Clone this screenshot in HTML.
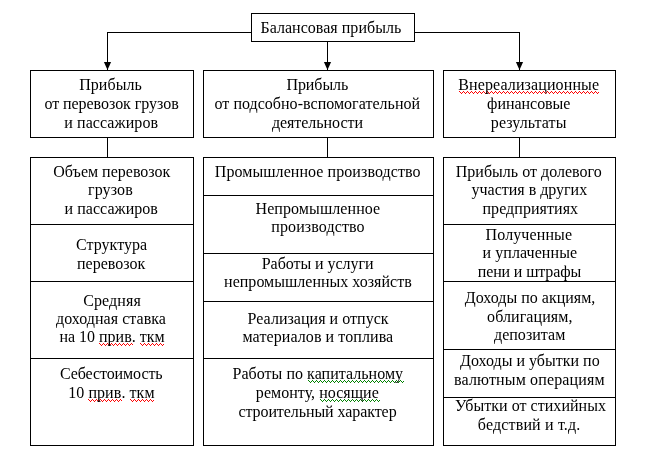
<!DOCTYPE html>
<html lang="ru"><head><meta charset="utf-8"><title>Балансовая прибыль</title>
<style>
html,body{margin:0;padding:0;background:#fff;}
body{width:653px;height:458px;position:relative;overflow:hidden;font-family:"Liberation Serif","DejaVu Serif",serif;font-size:16px;color:#000;}
.b{position:absolute;box-sizing:border-box;border:1px solid #000;}
.h{position:absolute;height:1px;background:#000;}
.v{position:absolute;width:1px;background:#000;}
.l{position:absolute;white-space:pre;line-height:18px;height:18px;}
#t{position:absolute;left:0;top:0;width:653px;height:458px;will-change:transform;}
svg.a{position:absolute;left:0;top:0;}
</style></head><body>

<div class="b" style="left:251px;top:13px;width:164px;height:29px"></div>
<div class="b" style="left:30px;top:70px;width:164px;height:68px"></div>
<div class="b" style="left:203px;top:70px;width:231px;height:68px"></div>
<div class="b" style="left:443px;top:70px;width:173px;height:68px"></div>
<div class="b" style="left:30px;top:157px;width:164px;height:289px"></div>
<div class="b" style="left:203px;top:157px;width:231px;height:289px"></div>
<div class="b" style="left:443px;top:157px;width:173px;height:289px"></div>
<div class="h" style="left:30px;top:224px;width:164px"></div>
<div class="h" style="left:30px;top:281px;width:164px"></div>
<div class="h" style="left:30px;top:358px;width:164px"></div>
<div class="h" style="left:203px;top:195px;width:231px"></div>
<div class="h" style="left:203px;top:253px;width:231px"></div>
<div class="h" style="left:203px;top:301px;width:231px"></div>
<div class="h" style="left:203px;top:358px;width:231px"></div>
<div class="h" style="left:443px;top:224px;width:173px"></div>
<div class="h" style="left:443px;top:281px;width:173px"></div>
<div class="h" style="left:443px;top:349px;width:173px"></div>
<div class="h" style="left:443px;top:397px;width:173px"></div>
<div class="h" style="left:107px;top:32px;width:145px"></div>
<div class="h" style="left:414px;top:32px;width:106px"></div>
<div class="v" style="left:107px;top:32px;height:38px"></div>
<div class="v" style="left:519px;top:32px;height:38px"></div>
<div class="v" style="left:327px;top:41px;height:29px"></div>
<div class="v" style="left:107px;top:137px;height:21px"></div>
<div class="v" style="left:327px;top:137px;height:21px"></div>
<div class="v" style="left:519px;top:137px;height:21px"></div>
<svg class="a" width="653" height="458" viewBox="0 0 653 458">
<defs>
<pattern id="pr" width="4" height="3" patternUnits="userSpaceOnUse"><rect x="0" y="0" width="1" height="1" fill="#ff0000"/><rect x="1" y="1" width="1" height="1" fill="#ff0000"/><rect x="2" y="2" width="1" height="1" fill="#ff0000"/><rect x="3" y="1" width="1" height="1" fill="#ff0000"/></pattern>
<pattern id="pg" width="4" height="3" patternUnits="userSpaceOnUse"><rect x="0" y="0" width="1" height="1" fill="#008000"/><rect x="1" y="1" width="1" height="1" fill="#008000"/><rect x="2" y="2" width="1" height="1" fill="#008000"/><rect x="3" y="1" width="1" height="1" fill="#008000"/></pattern>
</defs>
<polygon points="103.9,62 111.1,62 107.5,70" fill="#000"/>
<polygon points="323.9,62 331.1,62 327.5,70" fill="#000"/>
<polygon points="515.9,62 523.1,62 519.5,70" fill="#000"/>
<svg x="459" y="91" width="140" height="3"><rect width="140" height="3" fill="url(#pr)"/></svg>
<svg x="99" y="343" width="34" height="3"><rect width="34" height="3" fill="url(#pr)"/></svg>
<svg x="140" y="343" width="24" height="3"><rect width="24" height="3" fill="url(#pr)"/></svg>
<svg x="88" y="399" width="34" height="3"><rect width="34" height="3" fill="url(#pr)"/></svg>
<svg x="130" y="399" width="24" height="3"><rect width="24" height="3" fill="url(#pr)"/></svg>
<svg x="308" y="380" width="96" height="3"><rect width="96" height="3" fill="url(#pg)"/></svg>
<svg x="320" y="399" width="60" height="3"><rect width="60" height="3" fill="url(#pg)"/></svg>
</svg>
<div id="t">
<div class="l" id="l0" style="left:260.51px;top:19px;letter-spacing:0.027px">Балансовая прибыль</div>
<div class="l" id="l1" style="left:79.20px;top:76px;letter-spacing:0.061px">Прибыль</div>
<div class="l" id="l2" style="left:44.41px;top:95px;letter-spacing:-0.047px">от перевозок грузов</div>
<div class="l" id="l3" style="left:64.27px;top:114px;letter-spacing:0.080px">и пассажиров</div>
<div class="l" id="l4" style="left:53.32px;top:163px;letter-spacing:0.001px">Объем перевозок</div>
<div class="l" id="l5" style="left:88.00px;top:181px;letter-spacing:0.119px">грузов</div>
<div class="l" id="l6" style="left:64.51px;top:200px;letter-spacing:0.048px">и пассажиров</div>
<div class="l" id="l7" style="left:75.95px;top:236px;letter-spacing:0.049px">Структура</div>
<div class="l" id="l8" style="left:77.00px;top:255px;letter-spacing:0.001px">перевозок</div>
<div class="l" id="l9" style="left:83.22px;top:292px;letter-spacing:0.101px">Средняя</div>
<div class="l" id="l10" style="left:55.96px;top:310px;letter-spacing:0.043px">доходная ставка</div>
<div class="l" id="l11" style="left:59.42px;top:328px;letter-spacing:-0.002px">на 10 прив. ткм</div>
<div class="l" id="l12" style="left:59.92px;top:365px;letter-spacing:-0.086px">Себестоимость</div>
<div class="l" id="l13" style="left:68.18px;top:384px;letter-spacing:0.076px">10 прив. ткм</div>
<div class="l" id="l14" style="left:286.51px;top:76px;letter-spacing:-0.090px">Прибыль</div>
<div class="l" id="l15" style="left:214.52px;top:95px;letter-spacing:0.028px">от подсобно-вспомогательной</div>
<div class="l" id="l16" style="left:271.91px;top:114px;letter-spacing:-0.046px">деятельности</div>
<div class="l" id="l17" style="left:214.78px;top:163px;letter-spacing:0.068px">Промышленное производство</div>
<div class="l" id="l18" style="left:255.55px;top:200px;letter-spacing:0.078px">Непромышленное</div>
<div class="l" id="l19" style="left:271.24px;top:218px;letter-spacing:0.114px">производство</div>
<div class="l" id="l20" style="left:261.78px;top:255px;letter-spacing:-0.046px">Работы и услуги</div>
<div class="l" id="l21" style="left:224.12px;top:273px;letter-spacing:0.011px">непромышленных хозяйств</div>
<div class="l" id="l22" style="left:247.55px;top:310px;letter-spacing:0.034px">Реализация и отпуск</div>
<div class="l" id="l23" style="left:242.50px;top:328px;letter-spacing:0.088px">материалов и топлива</div>
<div class="l" id="l24" style="left:232.55px;top:365px;letter-spacing:0.031px">Работы по капитальному</div>
<div class="l" id="l25" style="left:255.85px;top:384px;letter-spacing:0.040px">ремонту, носящие</div>
<div class="l" id="l26" style="left:238.40px;top:403px;letter-spacing:-0.075px">строительный характер</div>
<div class="l" id="l27" style="left:458.20px;top:76px;letter-spacing:0.122px">Внереализационные</div>
<div class="l" id="l28" style="left:487.09px;top:95px;letter-spacing:-0.034px">финансовые</div>
<div class="l" id="l29" style="left:490.85px;top:114px;letter-spacing:0.078px">результаты</div>
<div class="l" id="l30" style="left:455.78px;top:163px;letter-spacing:0.015px">Прибыль от долевого</div>
<div class="l" id="l31" style="left:471.60px;top:181px;letter-spacing:-0.013px">участия в других</div>
<div class="l" id="l32" style="left:482.51px;top:200px;letter-spacing:0.050px">предприятиях</div>
<div class="l" id="l33" style="left:485.55px;top:226px;letter-spacing:0.122px">Полученные</div>
<div class="l" id="l34" style="left:482.51px;top:244px;letter-spacing:0.081px">и уплаченные</div>
<div class="l" id="l35" style="left:477.77px;top:263px;letter-spacing:-0.140px">пени и штрафы</div>
<div class="l" id="l36" style="left:464.79px;top:289px;letter-spacing:0.013px">Доходы по акциям,</div>
<div class="l" id="l37" style="left:487.06px;top:308px;letter-spacing:0.086px">облигациям,</div>
<div class="l" id="l38" style="left:493.96px;top:326px;letter-spacing:0.034px">депозитам</div>
<div class="l" id="l39" style="left:460.06px;top:352px;letter-spacing:0.009px">Доходы и убытки по</div>
<div class="l" id="l40" style="left:454.00px;top:371px;letter-spacing:0.149px">валютным операциям</div>
<div class="l" id="l41" style="left:454.96px;top:397px;letter-spacing:0.033px">Убытки от стихийных</div>
<div class="l" id="l42" style="left:477.80px;top:416px;letter-spacing:0.165px">бедствий и т.д.</div>
</div>
</body></html>
